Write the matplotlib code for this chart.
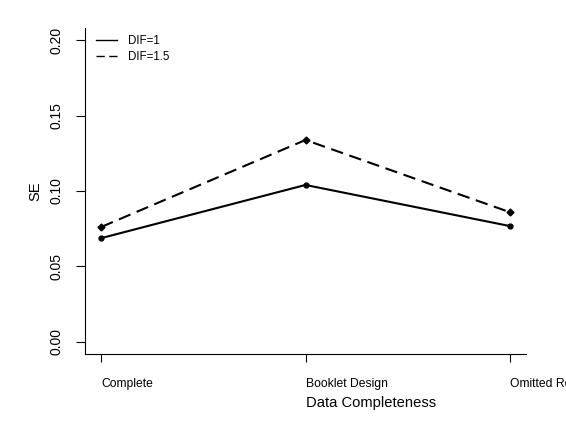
import matplotlib
matplotlib.use("Agg")
import matplotlib.pyplot as plt

plt.rcParams['font.family'] = ['Liberation Sans', 'DejaVu Sans']

# standard errors by data condition
conditions = ["Complete", "Booklet Design", "Omitted Responses"]
se_dif1 = [0.0688, 0.1040, 0.0768]
se_dif15 = [0.0762, 0.1338, 0.0860]
y_ticks = [0.00, 0.05, 0.10, 0.15, 0.20]

W, H = 566, 434
fig = plt.figure(figsize=(W / 100, H / 100), dpi=100)
ax = fig.add_axes([85 / W, 1 - 354 / H, (526 - 85) / W, (354 - 28) / H])

x = list(range(1, len(conditions) + 1))
ax.plot(x, se_dif1, color='black', linewidth=1.5, linestyle='-',
        marker='o', markersize=3.5, label="DIF=1")
ax.plot(x, se_dif15, color='black', linewidth=1.5, linestyle=(0, (6, 3.2)),
        marker='D', markersize=3.5, label="DIF=1.5")

ax.set_xlim(0.92, 3.08)
ax.set_ylim(-0.008, 0.208)

# L-shaped box like R's bty="l"
ax.spines['top'].set_visible(False)
ax.spines['right'].set_visible(False)
for s in ('left', 'bottom'):
    ax.spines[s].set_linewidth(0.8)

ax.set_xticks(x)
ax.set_xticklabels(conditions, ha='left', fontsize=8.7)
ax.tick_params(axis='x', length=6, width=0.8, pad=11)

ax.set_yticks(y_ticks)
ax.set_yticklabels([f"{v:.2f}" for v in y_ticks], rotation=90,
                   va='center', fontsize=10)
ax.tick_params(axis='y', length=6.5, width=0.8, pad=9)

fig.text(306 / W, 1 - 403 / H, "Data Completeness", ha='left', va='center',
         fontsize=10.6)
fig.text(35 / W, 1 - 191 / H, "SE", rotation=90, ha='center', va='center',
         fontsize=10.6)

leg = ax.legend(loc='upper left', bbox_to_anchor=(96 / W, 1 - 35 / H),
                bbox_transform=fig.transFigure, frameon=False, fontsize=8.3,
                handlelength=1.85, handletextpad=0.9, labelspacing=0.35,
                borderpad=0, borderaxespad=0)
for line in leg.get_lines():
    line.set_marker('')
    line.set_linewidth(1.0)

fig.savefig("out.png", dpi=100)
